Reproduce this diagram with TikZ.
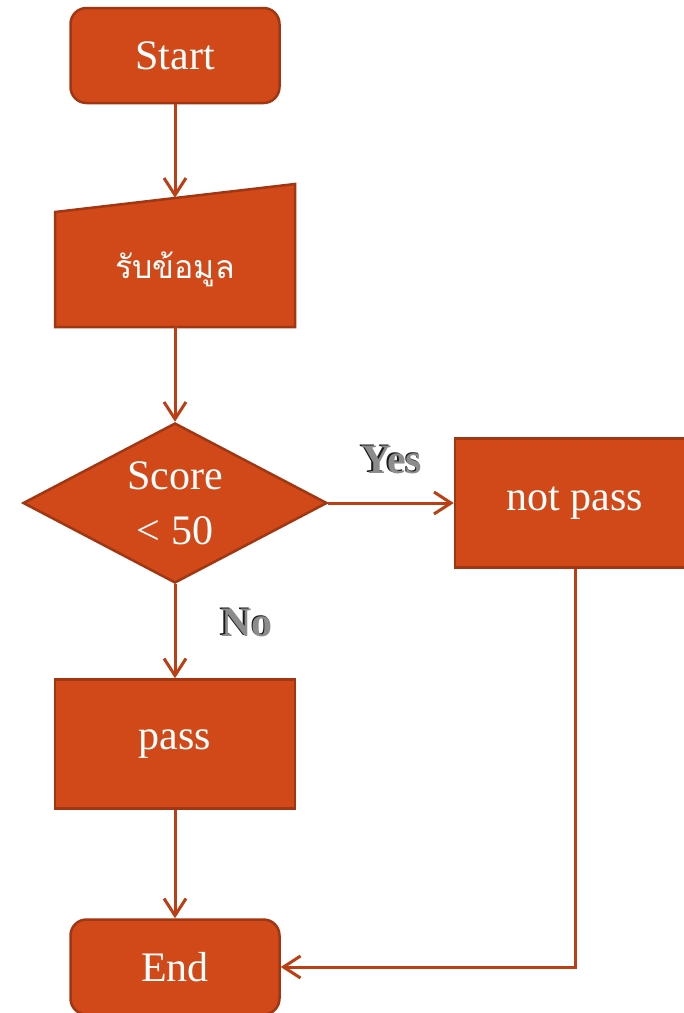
\documentclass[tikz,border=0pt]{standalone}
\usepackage{fontspec}
\setmainfont{Liberation Serif}
\newfontfamily\thaifont[Script=Thai]{Loma}
\usetikzlibrary{shapes.geometric,arrows.meta}

\definecolor{boxfill}{RGB}{209,73,24}
\definecolor{boxline}{RGB}{160,55,18}
\definecolor{flowline}{RGB}{188,62,20}

\newcommand{\embossed}[1]{\rlap{\color{black!90}#1}\kern1.6pt\raisebox{-1.2pt}{\color{black!45}#1}}

\begin{document}
\begin{tikzpicture}[
	x=1pt, y=-1pt,
	>={Straight Barb[length=17pt,width=22pt]},
	box/.style={fill=boxfill, draw=boxline, line width=2.5pt, text=white,
		font=\fontsize{42}{55}\selectfont},
	terminal/.style={box, rounded corners=16pt,
		minimum width=209pt, minimum height=95pt},
	process/.style={box, minimum width=240pt, minimum height=129pt},
	flow/.style={draw=flowline, line width=3pt},
	answer/.style={font=\fontsize{42}{46}\selectfont\bfseries}
]
	\useasboundingbox (0,0) rectangle (684,1013);

	% manual input outline
	\draw [box] (55,327) -- (295,327) -- (295,184) -- (55,212) -- cycle;

	\node [terminal] (1) at (175,55.5) {Start};
	\node [minimum width=240pt, minimum height=115pt, inner sep=0pt,
		text=white, font=\fontsize{32}{40}\thaifont] (2) at (175,269.5)
		{รับข้อมูล};
	\node [box, diamond, aspect=1.9, inner sep=0pt, align=center,
		minimum width=304pt, minimum height=160pt] (3) at (175,503)
		{Score\\\textless{} 50};
	\node [process] (4) at (575,503) {not pass};
	\node [process] (5) at (175,744) {pass};
	\node [terminal] (6) at (175,967) {End};

	\draw [ flow, -> ] (1) to ([yshift=14pt]2.north);
	\draw [ flow, -> ] (2) to (3);
	\draw [ flow, -> ] (3) to
		node [answer, above=24pt] {\embossed{Yes}}
		(4);
	\draw [ flow, -> ] (3) to
		node [answer, right=40pt, yshift=9pt] {\embossed{No}}
		(5);
	\draw [ flow, -> ] (5) to (6);
	\draw [ flow, -> ] (4) |- (6);
\end{tikzpicture}
\end{document}
